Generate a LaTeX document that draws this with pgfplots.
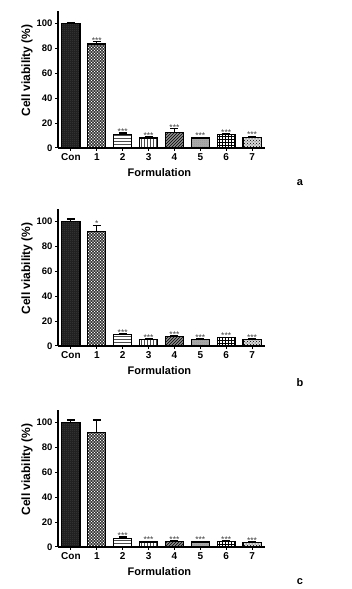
\documentclass[border=0pt]{standalone}
\usepackage{pgfplots}
\pgfplotsset{compat=1.18}
\usepackage{pgfplotstable}
\usetikzlibrary{patterns}
\usepackage{fontspec}
\setmainfont{Liberation Sans}

\pgfdeclarepatternformonly{holes}{\pgfqpoint{-1pt}{-1pt}}{\pgfqpoint{3pt}{3pt}}{\pgfqpoint{3pt}{3pt}}{%
  \pgfpathcircle{\pgfpointorigin}{0.85pt}%
  \pgfpathcircle{\pgfqpoint{1.5pt}{1.5pt}}{0.85pt}%
  \pgfusepath{fill}}
\pgfdeclarepatternformonly{tinyholes}{\pgfqpoint{-0.5pt}{-0.5pt}}{\pgfqpoint{2pt}{2pt}}{\pgfqpoint{2pt}{2pt}}{%
  \pgfpathcircle{\pgfpointorigin}{0.4pt}%
  \pgfpathcircle{\pgfqpoint{1pt}{1pt}}{0.4pt}%
  \pgfusepath{fill}}
\pgfdeclarepatternformonly{finedots}{\pgfqpoint{-0.5pt}{-0.5pt}}{\pgfqpoint{2pt}{2pt}}{\pgfqpoint{2pt}{2pt}}{%
  \pgfpathcircle{\pgfpointorigin}{0.45pt}%
  \pgfpathcircle{\pgfqpoint{1pt}{1pt}}{0.45pt}%
  \pgfusepath{fill}}

\pgfplotstableread{
x y e s
0 100 1.0 -
1 83.5 2.0 ***
2 11.0 1.0 ***
3 8.0 0.8 ***
4 12.5 3.0 ***
5 8.0 0.5 ***
6 10.5 1.0 ***
7 8.5 1.0 ***
}\tabA
\pgfplotstableread{
x y e s
0 100 2.0 -
1 92.0 5.0 *
2 9.0 1.0 ***
3 5.5 0.5 ***
4 7.5 0.5 ***
5 5.5 0.5 ***
6 6.5 0.5 ***
7 5.5 0.5 ***
}\tabB
\pgfplotstableread{
x y e s
0 100 2.0 -
1 92.0 10.0 -
2 7.0 1.0 ***
3 4.0 0.5 ***
4 4.5 0.5 ***
5 4.0 0.5 ***
6 4.5 0.5 ***
7 3.5 0.5 ***
}\tabC

\pgfplotsset{
  barbase/.style={ybar, bar width=0.7, bar shift=0pt, draw=black, line width=1.1pt,
    error bars/y dir=plus, error bars/y explicit,
    error bars/error bar style={line width=1.1pt, black},
    error bars/error mark options={rotate=90, mark size=4pt, line width=1.1pt, black}},
  bar0/.style={barbase, fill=black, postaction={pattern=tinyholes, pattern color=white!85!black}},
  bar1/.style={barbase, fill=black, postaction={pattern=holes, pattern color=white}},
  bar2/.style={barbase, fill=white, postaction={pattern=horizontal lines, pattern color=black!70}},
  bar3/.style={barbase, fill=white, postaction={pattern=vertical lines, pattern color=black!70}},
  bar4/.style={barbase, fill=black!45, postaction={pattern=north east lines, pattern color=black}},
  bar5/.style={barbase, fill=black!25, postaction={pattern=finedots, pattern color=black!80}},
  bar6/.style={barbase, fill=white, postaction={pattern=grid, pattern color=black}},
  bar7/.style={barbase, fill=black!15, postaction={pattern=crosshatch dots, pattern color=black}},
  panel/.style={
    scale only axis, width=207pt, height=137pt,
    anchor=south west,
    xmin=-0.5, xmax=7.5, ymin=0, ymax=110,
    axis x line*=bottom, axis y line*=left,
    axis line style={line width=1.3pt, -},
    xtick={0,...,7}, xticklabels={Con,1,2,3,4,5,6,7},
    ytick={0,20,...,100},
    yticklabel={\pgfmathparse{int(\tick)}\pgfmathresult},
    tick style={line width=1pt, black},
    tick align=outside, major tick length=3pt,
    xticklabel style={font=\fontsize{10}{11}\selectfont\bfseries, yshift=1pt},
    yticklabel style={font=\fontsize{9.5}{10}\selectfont\bfseries, xshift=1pt},
    xlabel={Formulation},
    ylabel={Cell viability (\%)},
    xlabel style={font=\fontsize{11}{12}\selectfont\bfseries, at={(rel axis cs:0.49,0)}, anchor=center, yshift=-25pt},
    ylabel style={font=\fontsize{12}{13}\selectfont\bfseries, at={(rel axis cs:0,0.565)}, anchor=center, yshift=31pt},
    nodes near coords style={font=\fontsize{8.5}{9}\selectfont, text=black!75, anchor=base, inner sep=0pt, yshift=-1.5pt},
  },
}

\newcommand{\drawpanel}[2]{%
  \pgfplotsinvokeforeach{0,...,7}{%
    \addplot[bar##1, restrict x to domain=##1:##1] table[x=x, y=y, y error=e]{#1};
  }
  \addplot[draw=none, mark=none, nodes near coords, point meta=explicit symbolic,
    restrict x to domain=#2]
    table[x=x, y expr=\thisrow{y}+\thisrow{e}, meta=s]{#1};
}

\begin{document}
\begin{tikzpicture}
\path[use as bounding box] (0,0) rectangle (351pt,589pt);
\begin{axis}[panel, at={(58pt,441pt)}]
\drawpanel{\tabA}{1:7}
\end{axis}
\node[font=\fontsize{11}{12}\selectfont\bfseries] at (300pt,406pt) {a};
\begin{axis}[panel, at={(58pt,243pt)}]
\drawpanel{\tabB}{1:7}
\end{axis}
\node[font=\fontsize{11}{12}\selectfont\bfseries] at (300pt,206pt) {b};
\begin{axis}[panel, at={(58pt,42pt)}]
\drawpanel{\tabC}{2:7}
\end{axis}
\node[font=\fontsize{11}{12}\selectfont\bfseries] at (300pt,7pt) {c};
\end{tikzpicture}
\end{document}
